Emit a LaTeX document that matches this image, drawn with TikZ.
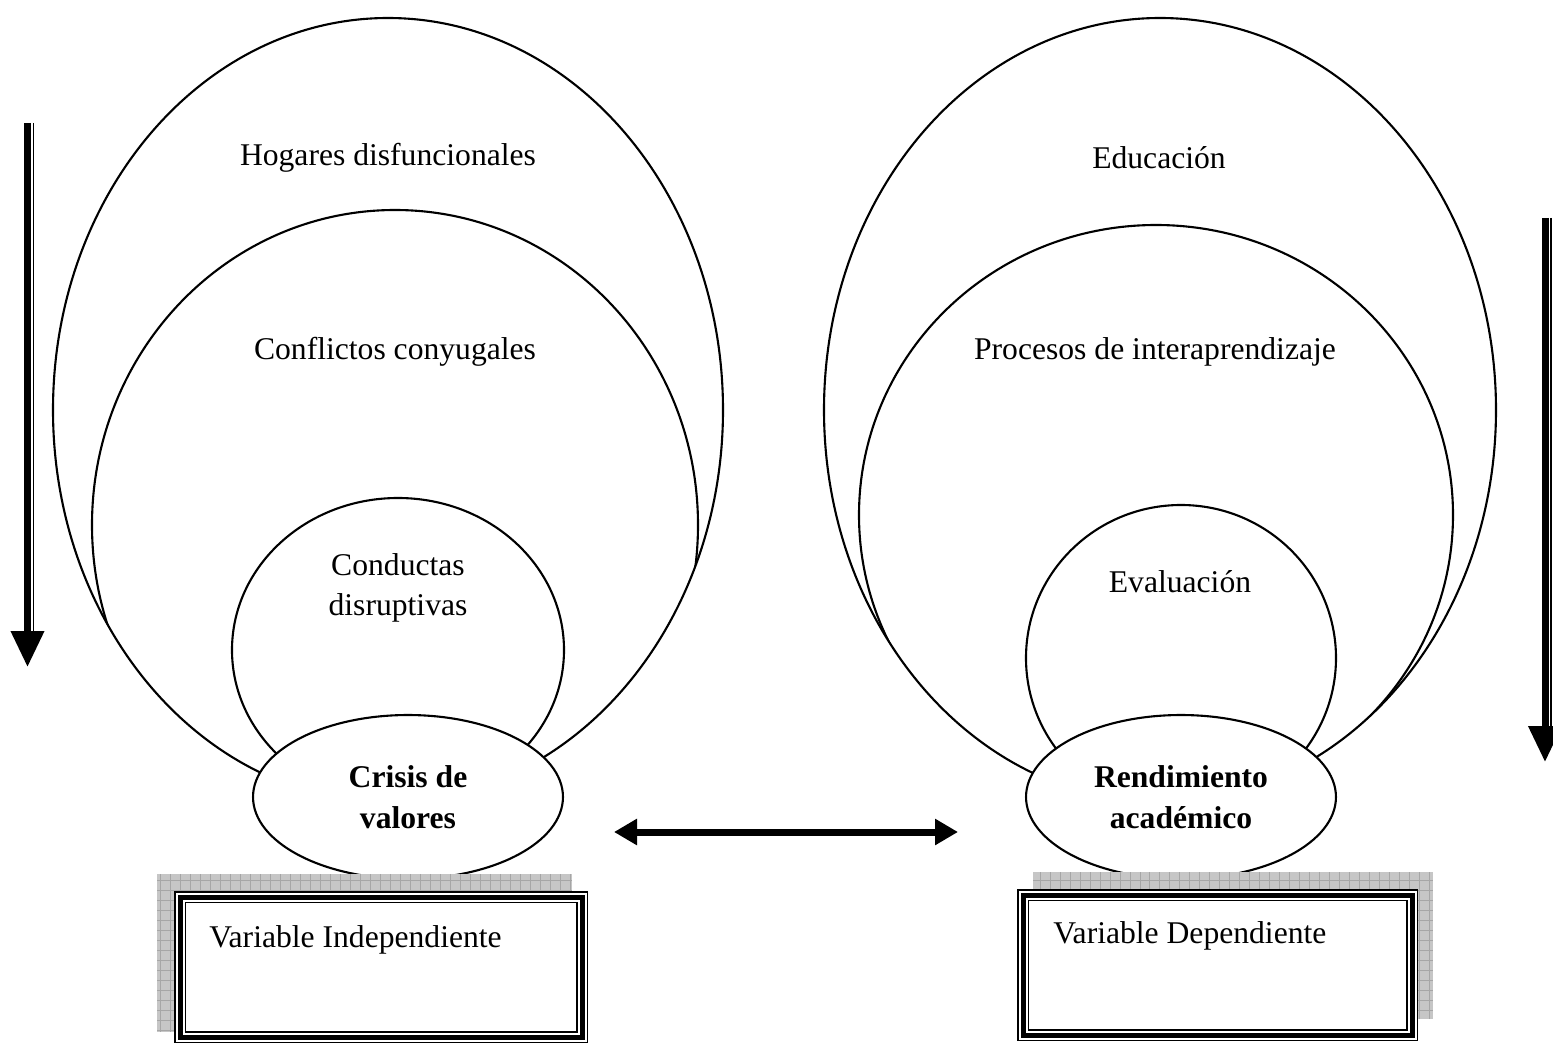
\documentclass[tikz,border=0pt]{standalone}
\usepackage{fontspec}
\setmainfont{Liberation Serif}
\usetikzlibrary{shapes.geometric,arrows.meta,positioning,math}

\begin{document}
\begin{tikzpicture}[x=0.02cm,y=-0.02cm]

\tikzmath{
	\W = 1.2pt;
}

\tikzset{
  ring/.style={draw, line width=\W},
  inner ring/.style={draw, line width=\W, fill=white},
  ring text/.style={font=\fontsize{18}{23}\selectfont, align=center, inner sep=0pt},
  core/.style={ellipse, draw, line width=\W, fill=white,
    minimum width=6.2cm, minimum height=3.28cm, inner sep=0pt,
    align=center, font=\fontsize{18}{23}\selectfont\bfseries},
  side arrow/.style={line width=0.14cm, -{Triangle[width=0.64cm,length=0.72cm]}},
  both arrow/.style={line width=0.14cm,
    {Triangle[width=0.5cm,length=0.46cm]}-{Triangle[width=0.5cm,length=0.46cm]}},
  shade box/.style={fill=gray!45},
  var box/.style={draw, line width=0.03cm, fill=white, anchor=north west,
    minimum width=#1, minimum height=3.02cm, inner sep=0pt},
  var box/.default=8.26cm,
  box text/.style={font=\fontsize{18}{23}\selectfont, anchor=base west, inner sep=0pt}
}

\useasboundingbox (0,0) rectangle (1553,1044);

% left side
\draw[ring] (388,410) ellipse [x radius=335, y radius=392];
\begin{scope}
  \clip (388,410) ellipse [x radius=335, y radius=392];
  \draw[ring] (395,525) ellipse [x radius=303, y radius=315];
\end{scope}
\draw[inner ring] (398,650) ellipse [x radius=166, y radius=152];
\node[core] (crisis) at (408,797) {Crisis de\\valores};

\node[ring text] (hogares) at (388,158) {Hogares disfuncionales};
\node[ring text] (conflictos) at (395,352) {Conflictos conyugales};
\node[ring text] (conductas) at (398,588) {Conductas\\disruptivas};

% right side
\draw[ring] (1160,410) ellipse [x radius=336, y radius=392];
\begin{scope}
  \clip (1160,410) ellipse [x radius=336, y radius=392];
  \draw[ring] (1156,515) ellipse [x radius=297, y radius=290];
\end{scope}
\draw[inner ring] (1181,658) ellipse [x radius=155, y radius=153];
\node[core] (rendimiento) at (1181,797) {Rendimiento\\académico};

\node[ring text] (educacion) at (1159,158) {Educación};
\node[ring text] (procesos) at (1155,352) {Procesos de interaprendizaje};
\node[ring text] (evaluacion) at (1180,582) {Evaluación};

% arrows
\coordinate (la top) at (27.5,123);
\coordinate (la tip) at (27.5,667);
\draw[side arrow] (la top) -- (la tip);
\draw[line width=0.03cm] ([xshift=0.12cm]la top) -- ([xshift=0.12cm,yshift=0.72cm]la tip);

\coordinate (ra top) at (1545,218);
\coordinate (ra tip) at (1545,762);
\draw[side arrow] (ra top) -- (ra tip);
\draw[line width=0.03cm] ([xshift=0.12cm]ra top) -- ([xshift=0.12cm,yshift=0.72cm]ra tip);

\coordinate (mid left) at (614,832);
\coordinate (mid right) at (958,832);
\draw[both arrow] (mid left) -- (mid right);

% boxes
\fill[shade box] (157,874) rectangle (572,1032);
\draw[gray!70, line width=0.3pt, step=0.2cm] (157,874) grid (572,1032);
\node[var box=8.26cm] (indep) at (174,891) {};
\draw[line width=0.1cm] ([shift={(6,6)}]indep.north west) rectangle ([shift={(-6,-6)}]indep.south east);
\draw[line width=0.03cm] ([shift={(11.5,11.5)}]indep.north west) rectangle ([shift={(-11.5,-11.5)}]indep.south east);
\node[box text] (indep text) at (209,947) {Variable Independiente};

\fill[shade box] (1033,872) rectangle (1433,1019);
\draw[gray!70, line width=0.3pt, step=0.2cm] (1033,872) grid (1433,1019);
\node[var box=8cm] (dep) at (1017,889) {};
\draw[line width=0.1cm] ([shift={(6,6)}]dep.north west) rectangle ([shift={(-6,-6)}]dep.south east);
\draw[line width=0.03cm] ([shift={(11.5,11.5)}]dep.north west) rectangle ([shift={(-11.5,-11.5)}]dep.south east);
\node[box text] (dep text) at (1053,943) {Variable Dependiente};

\end{tikzpicture}
\end{document}
